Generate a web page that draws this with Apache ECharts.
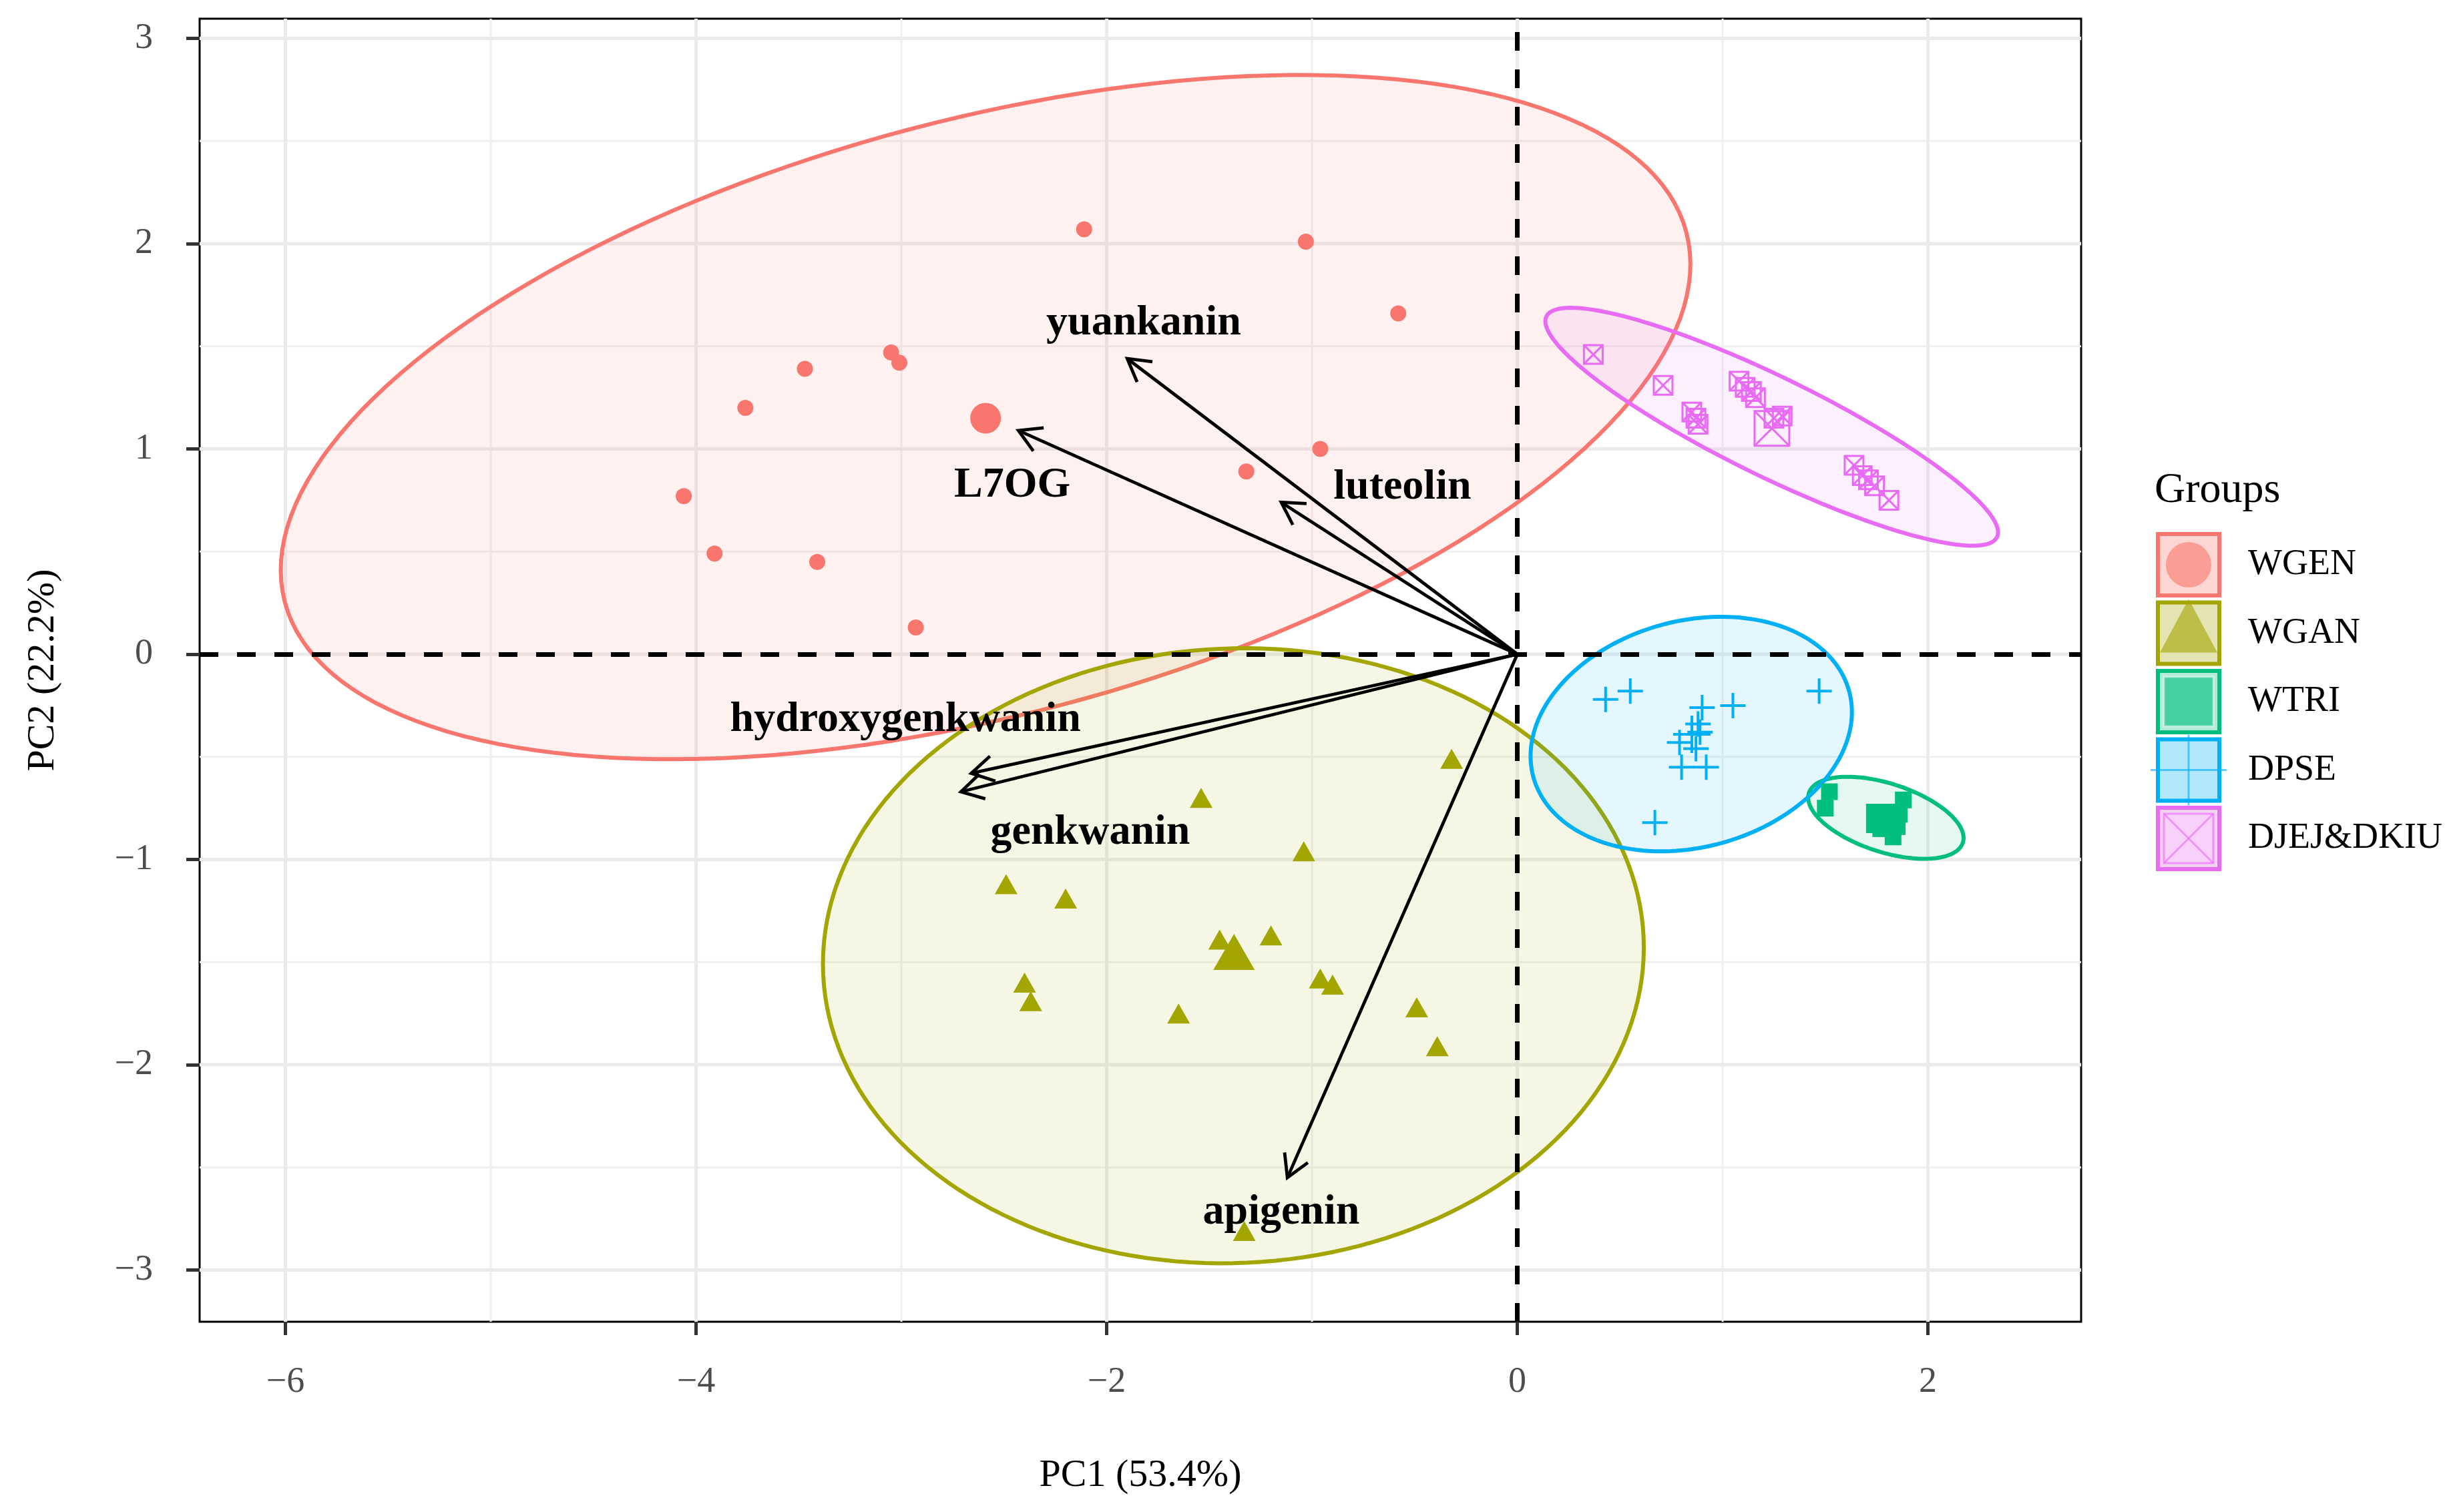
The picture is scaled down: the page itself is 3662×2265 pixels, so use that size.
<!DOCTYPE html>
<html>
<head>
<meta charset="utf-8">
<title>PCA biplot</title>
<script src="https://cdn.jsdelivr.net/npm/echarts/dist/echarts.min.js"></script>
<style>
  html, body { margin: 0; padding: 0; background: #fff; }
  #chart { width: 3662px; height: 2265px; }
</style>
</head>
<body>
<div id="chart"></div>
<script>
// groups and colours (ggplot default hues)
var groups = ['WGEN', 'WGAN', 'WTRI', 'DPSE', 'DJEJ&DKIU'];
var groupColors = ['#F8766D', '#A3A500', '#00BF7D', '#00B0F6', '#E76BF3'];

// individual scores (PC1, PC2)
var wgenPts = [[-2.11, 2.07], [-1.03, 2.01], [-0.58, 1.66], [-3.05, 1.47], [-3.01, 1.42],
  [-3.47, 1.39], [-3.76, 1.20], [-0.96, 1.00], [-1.32, 0.89], [-4.06, 0.77],
  [-3.91, 0.49], [-3.41, 0.45], [-2.93, 0.13]];
var wganPts = [[-1.54, -0.70], [-1.04, -0.96], [-0.32, -0.51], [-2.49, -1.12], [-2.20, -1.19],
  [-1.45, -1.39], [-1.20, -1.37], [-2.40, -1.60], [-2.37, -1.69], [-0.96, -1.58],
  [-0.90, -1.61], [-1.65, -1.75], [-0.49, -1.72], [-0.39, -1.91], [-1.33, -2.81]];
var wtriPts = [[1.52, -0.67], [1.50, -0.75], [1.76, -0.79], [1.77, -0.85], [1.88, -0.71],
  [1.86, -0.78], [1.85, -0.84], [1.83, -0.89]];
var dpsePts = [[0.43, -0.22], [0.55, -0.18], [0.90, -0.26], [1.05, -0.25], [1.47, -0.18],
  [0.89, -0.38], [0.85, -0.39], [0.79, -0.43], [0.87, -0.46], [0.80, -0.55],
  [0.92, -0.55], [0.88, -0.34], [0.67, -0.82]];
var djejPts = [[0.37, 1.46], [0.71, 1.31], [0.85, 1.18], [0.87, 1.15], [0.88, 1.12],
  [1.08, 1.33], [1.11, 1.30], [1.14, 1.28], [1.16, 1.25], [1.25, 1.15],
  [1.29, 1.16], [1.64, 0.92], [1.68, 0.87], [1.71, 0.85], [1.74, 0.82], [1.81, 0.75]];
var groupPts = [wgenPts, wganPts, wtriPts, dpsePts, djejPts];

// group mean points (the big markers)
var groupMeans = [[-2.59, 1.15], [-1.38, -1.45], [1.77, -0.80], [0.85, -0.39], [1.24, 1.10]];

// confidence ellipses: centre, semi axes, rotation (degrees)
var ellCenter = [[-2.59, 1.155], [-1.383, -1.469], [1.795, -0.797], [0.847, -0.389], [1.239, 1.108]];
var ellSemiA = [3.53, 2.00, 0.394, 0.797, 1.222];
var ellSemiB = [1.45, 1.497, 0.167, 0.551, 0.241];
var ellAngle = [14.8, 2.6, -17.9, 15.2, -26.1];

// variable loadings (arrows) and where their labels sit
var varNames = ['yuankanin', 'L7OG', 'luteolin', 'hydroxygenkwanin', 'genkwanin', 'apigenin'];
var varX = [-1.90, -2.43, -1.15, -2.66, -2.71, -1.12];
var varY = [1.44, 1.09, 0.74, -0.58, -0.67, -2.55];
var labelX = [-1.82, -2.46, -0.56, -2.98, -2.08, -1.15];
var labelY = [1.61, 0.82, 0.81, -0.32, -0.87, -2.72];

// axes
var xTicks = [-6, -4, -2, 0, 2];
var yTicks = [-3, -2, -1, 0, 1, 2, 3];
var xMinor = [-5, -3, -1, 1];
var yMinor = [-2.5, -1.5, -0.5, 0.5, 1.5, 2.5];

var FONT = '"Liberation Serif", "DejaVu Serif", serif';

function rgba(hex, a) {
  var r = parseInt(hex.slice(1, 3), 16), g = parseInt(hex.slice(3, 5), 16), b = parseInt(hex.slice(5, 7), 16);
  return 'rgba(' + r + ',' + g + ',' + b + ',' + a + ')';
}
function minusFmt(v) {
  return v < 0 ? '\u2212' + Math.abs(v) : String(v);
}

var chart = echarts.init(document.getElementById('chart'));

// grid line data: [direction, value], 0 = vertical, 1 = horizontal
var majorLines = xTicks.map(function (v) { return [0, v]; }).concat(yTicks.map(function (v) { return [1, v]; }));
var minorLines = xMinor.map(function (v) { return [0, v]; }).concat(yMinor.map(function (v) { return [1, v]; }));

function gridRender(width, color) {
  return function (params, api) {
    var cs = params.coordSys;
    var dir = api.value(0), v = api.value(1);
    if (dir === 0) {
      var px = api.coord([v, 0])[0];
      return { type: 'line', shape: { x1: px, y1: cs.y, x2: px, y2: cs.y + cs.height },
        style: { stroke: color, lineWidth: width }, silent: true };
    }
    var py = api.coord([0, v])[1];
    return { type: 'line', shape: { x1: cs.x, y1: py, x2: cs.x + cs.width, y2: py },
      style: { stroke: color, lineWidth: width }, silent: true };
  };
}

var series = [];
series.push({ type: 'custom', name: 'minorGrid', data: minorLines, z: 1, renderItem: gridRender(3, '#F0F0F0') });
series.push({ type: 'custom', name: 'majorGrid', data: majorLines, z: 1, renderItem: gridRender(5, '#EBEBEB') });

// ellipses
series.push({
  type: 'custom', name: 'ellipses', z: 2, silent: true,
  data: ellCenter,
  renderItem: function (params, api) {
    var i = params.dataIndex;
    var cx = api.value(0), cy = api.value(1);
    var a = ellSemiA[i], b = ellSemiB[i], th = ellAngle[i] * Math.PI / 180;
    var pts = [];
    for (var k = 0; k < 180; k++) {
      var t = k / 180 * 2 * Math.PI;
      var ex = a * Math.cos(t), ey = b * Math.sin(t);
      pts.push(api.coord([cx + ex * Math.cos(th) - ey * Math.sin(th), cy + ex * Math.sin(th) + ey * Math.cos(th)]));
    }
    return { type: 'polygon', shape: { points: pts },
      style: { fill: rgba(groupColors[i], 0.1), stroke: groupColors[i], lineWidth: 6 } };
  }
});

// dashed zero lines
series.push({
  type: 'line', name: 'zero', data: [], z: 3, silent: true,
  markLine: {
    silent: true, symbol: ['none', 'none'], label: { show: false },
    lineStyle: { color: '#000', width: 7, type: [28, 28] },
    emphasis: { disabled: true },
    data: [{ xAxis: 0 }, { yAxis: 0 }]
  }
});

// arrows
series.push({
  type: 'custom', name: 'arrows', z: 4, silent: true,
  data: varX.map(function (x, i) { return [x, varY[i]]; }),
  renderItem: function (params, api) {
    var p0 = api.coord([0, 0]);
    var p1 = api.coord([api.value(0), api.value(1)]);
    var ang = Math.atan2(p1[1] - p0[1], p1[0] - p0[0]);
    var L = 38, h = Math.PI / 6;
    var h1 = [p1[0] - L * Math.cos(ang - h), p1[1] - L * Math.sin(ang - h)];
    var h2 = [p1[0] - L * Math.cos(ang + h), p1[1] - L * Math.sin(ang + h)];
    return { type: 'group', children: [
      { type: 'line', shape: { x1: p0[0], y1: p0[1], x2: p1[0], y2: p1[1] },
        style: { stroke: '#000', lineWidth: 4.8 } },
      { type: 'polyline', shape: { points: [h1, p1, h2] },
        style: { stroke: '#000', lineWidth: 4.8, fill: 'none', lineJoin: 'miter' } }
    ] };
  }
});

// points
var symbols = ['circle', 'triangle', 'rect', 'path://M0,5L10,5M5,0L5,10', 'path://M0,0L10,0L10,10L0,10ZM0,0L10,10M10,0L0,10'];
var ptSizes = [24, [34, 30], 25, 38, 28];
var meanSizes = [46, [62, 54], 44, 56, 52];
var outlined = [false, false, false, true, true];
var strokeW = [0, 0, 0, 4, 3];

groups.forEach(function (g, i) {
  var data = groupPts[i].map(function (p) { return { value: p }; });
  data.push({ value: groupMeans[i], symbolSize: meanSizes[i] });
  series.push({
    type: 'scatter', name: g, z: 5, silent: true,
    symbol: symbols[i], symbolSize: ptSizes[i],
    itemStyle: outlined[i]
      ? { color: 'none', borderColor: groupColors[i], borderWidth: strokeW[i], opacity: 1 }
      : { color: groupColors[i], opacity: 1 },
    data: data
  });
});

// arrow labels
series.push({
  type: 'custom', name: 'varLabels', z: 6, silent: true,
  data: labelX.map(function (x, i) { return [x, labelY[i]]; }),
  renderItem: function (params, api) {
    var p = api.coord([api.value(0), api.value(1)]);
    return { type: 'text', x: p[0], y: p[1],
      style: { text: varNames[params.dataIndex], fill: '#000', fontSize: 64, fontWeight: 'bold',
        fontFamily: FONT, align: 'center', verticalAlign: 'middle' } };
  }
});

// legend drawn as graphic keys
var legendGraphics = [];
legendGraphics.push({ type: 'text', x: 3227, y: 735,
  style: { text: 'Groups', fontSize: 64, fontFamily: FONT, fill: '#000', verticalAlign: 'middle' } });
groups.forEach(function (g, i) {
  var left = 3229, top = 797 + i * 102.5, s = 98, cx = left + s / 2, cy = top + s / 2;
  var col = groupColors[i];
  legendGraphics.push({ type: 'rect', shape: { x: left + 3, y: top + 3, width: s - 6, height: s - 6 },
    style: { fill: rgba(col, 0.3), stroke: col, lineWidth: 6 } });
  if (i === 0) {
    legendGraphics.push({ type: 'circle', shape: { cx: cx, cy: cy, r: 34 }, style: { fill: rgba(col, 0.6) } });
  } else if (i === 1) {
    legendGraphics.push({ type: 'polygon', shape: { points: [[cx, top - 2], [left + 6, top + 78], [left + s - 6, top + 78]] },
      style: { fill: rgba(col, 0.6) } });
  } else if (i === 2) {
    legendGraphics.push({ type: 'rect', shape: { x: left + 12, y: top + 12, width: s - 24, height: s - 24 },
      style: { fill: rgba(col, 0.6), stroke: 'rgba(255,255,255,0.45)', lineWidth: 3 } });
  } else if (i === 3) {
    legendGraphics.push({ type: 'line', shape: { x1: left - 8, y1: cy, x2: left + s + 8, y2: cy },
      style: { stroke: rgba(col, 0.6), lineWidth: 3 } });
    legendGraphics.push({ type: 'line', shape: { x1: cx, y1: top - 4, x2: cx, y2: top + s + 4 },
      style: { stroke: rgba(col, 0.6), lineWidth: 3 } });
  } else {
    legendGraphics.push({ type: 'rect', shape: { x: left + 12, y: top + 12, width: s - 24, height: s - 24 },
      style: { fill: 'none', stroke: rgba(col, 0.6), lineWidth: 3 } });
    legendGraphics.push({ type: 'polyline', shape: { points: [[left + 12, top + 12], [left + s - 12, top + s - 12]] },
      style: { stroke: rgba(col, 0.6), lineWidth: 3, fill: 'none' } });
    legendGraphics.push({ type: 'polyline', shape: { points: [[left + s - 12, top + 12], [left + 12, top + s - 12]] },
      style: { stroke: rgba(col, 0.6), lineWidth: 3, fill: 'none' } });
  }
  legendGraphics.push({ type: 'text', x: 3367, y: cy,
    style: { text: g, fontSize: 54, fontFamily: FONT, fill: '#000', verticalAlign: 'middle' } });
});

chart.setOption({
  animation: false,
  backgroundColor: '#fff',
  grid: { left: 299, top: 28, width: 2818, height: 1952, show: true, borderColor: '#000', borderWidth: 3,
    backgroundColor: '#fff', containLabel: false },
  xAxis: {
    type: 'value', min: -6.418, max: 2.746,
    name: 'PC1 (53.4%)', nameLocation: 'middle', nameGap: 202,
    nameTextStyle: { fontFamily: FONT, fontSize: 58, color: '#000' },
    axisLine: { show: false, onZero: false },
    axisTick: { show: true, customValues: xTicks, length: 20, lineStyle: { color: '#333', width: 5 } },
    axisLabel: { customValues: xTicks, formatter: minusFmt, color: '#4D4D4D', fontSize: 54, fontFamily: FONT, margin: 64 },
    splitLine: { show: false }
  },
  yAxis: {
    type: 'value', min: -3.252, max: 3.096,
    name: 'PC2 (22.2%)', nameLocation: 'middle', nameGap: 205,
    nameTextStyle: { fontFamily: FONT, fontSize: 58, color: '#000' },
    axisLine: { show: false, onZero: false },
    axisTick: { show: true, customValues: yTicks, length: 20, lineStyle: { color: '#333', width: 5 } },
    axisLabel: { customValues: yTicks, formatter: minusFmt, color: '#4D4D4D', fontSize: 54, fontFamily: FONT, margin: 70 },
    splitLine: { show: false }
  },
  graphic: legendGraphics,
  series: series
});
</script>
</body>
</html>
